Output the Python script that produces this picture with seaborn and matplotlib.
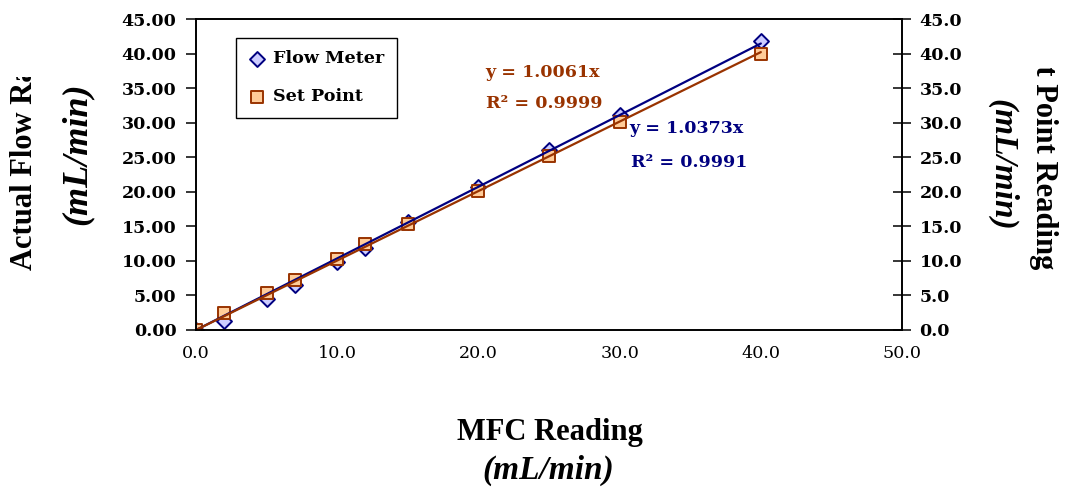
import numpy as np
import matplotlib
matplotlib.use("Agg")
import matplotlib.pyplot as plt
from matplotlib.transforms import Bbox, TransformedBbox
import seaborn as sns

# Calibration readings (mL/min)
mfc_reading = [0, 2, 5, 7, 10, 12, 15, 20, 25, 30, 40]
flow_meter = [0.0, 1.3, 4.5, 6.5, 9.9, 11.9, 15.6, 20.7, 26.1, 31.2, 41.8]
set_point = [0.0, 2.5, 5.3, 7.3, 10.3, 12.4, 15.3, 20.2, 25.2, 30.1, 40.0]

# Linear trendlines through the origin
flow_slope, flow_r2 = 1.0373, 0.9991
set_slope, set_r2 = 1.0061, 0.9999

x_ticks = [0, 10, 20, 30, 40, 50]
y_ticks = [0, 5, 10, 15, 20, 25, 30, 35, 40, 45]

NAVY = "#000080"
BROWN = "#993300"
LAVENDER = "#CCCCFF"
PEACH = "#FFCC99"
TITLE_FONT = "Liberation Serif"
SMALL = 12.6

sns.set_style("white")
plt.rcParams["font.family"] = ["DejaVu Serif"]
plt.rcParams["text.color"] = "black"
plt.rcParams["axes.labelcolor"] = "black"
plt.rcParams["xtick.color"] = "black"
plt.rcParams["ytick.color"] = "black"

fig = plt.figure(figsize=(10.69, 4.88), dpi=100)
ax = fig.add_axes([0.1834, 0.3238, 0.6604, 0.6367])

sns.scatterplot(x=mfc_reading, y=flow_meter, marker="D", s=58, color=LAVENDER,
                edgecolor=NAVY, linewidth=1.4, ax=ax, label="Flow Meter", zorder=2)
sns.scatterplot(x=mfc_reading, y=set_point, marker="s", s=70, color=PEACH,
                edgecolor=BROWN, linewidth=1.4, ax=ax, label="Set Point", zorder=2.5)

fit_x = np.array([min(mfc_reading), max(mfc_reading)], dtype=float)
sns.lineplot(x=fit_x, y=flow_slope * fit_x, color=NAVY, linewidth=1.6, ax=ax,
             zorder=3, legend=False)
sns.lineplot(x=fit_x, y=set_slope * fit_x, color=BROWN, linewidth=1.6, ax=ax,
             zorder=3, legend=False)

ax.set_xlim(0, 50)
ax.set_ylim(0, 45)
ax.set_xticks(x_ticks)
ax.set_xticklabels([f"{v:.1f}" for v in x_ticks], fontsize=SMALL, color="black")
ax.set_yticks(y_ticks)
ax.set_yticklabels([f"{v:.2f}" for v in y_ticks], fontsize=SMALL,
                   fontweight="bold", color="black")
ax.tick_params(axis="x", direction="out", length=5, width=1.1, pad=6, color="black")
ax.tick_params(axis="y", direction="out", length=7, width=1.1, pad=7, color="black")
ax.set_xlabel("")
ax.set_ylabel("")

ax2 = ax.twinx()
ax2.set_ylim(0, 45)
ax2.set_yticks(y_ticks)
ax2.set_yticklabels([f"{v:.1f}" for v in y_ticks], fontsize=SMALL,
                    fontweight="bold", color="black")
ax2.tick_params(axis="y", direction="inout", length=13, width=1.1, pad=6, color="black")

for a in (ax, ax2):
    for sp in a.spines.values():
        sp.set_visible(True)
        sp.set_color("black")
        sp.set_linewidth(1.2)

# Trendline equations
ax.text(20.5, 37.3, f"y = {set_slope:.4f}x", color=BROWN, fontsize=SMALL,
        fontweight="bold", va="center", ha="left")
ax.text(20.5, 32.8, f"R² = {set_r2:.4f}", color=BROWN, fontsize=SMALL,
        fontweight="bold", va="center", ha="left")
ax.text(30.7, 29.2, f"y = {flow_slope:.4f}x", color=NAVY, fontsize=SMALL,
        fontweight="bold", va="center", ha="left")
ax.text(30.8, 24.3, f"R² = {flow_r2:.4f}", color=NAVY, fontsize=SMALL,
        fontweight="bold", va="center", ha="left")

handles, labels = ax.get_legend_handles_labels()
leg = ax.legend(handles[:2], labels[:2], loc="upper left",
                bbox_to_anchor=(0.057, 0.939), frameon=True, fancybox=False,
                edgecolor="black", framealpha=1, borderpad=0.7, labelspacing=1.2,
                handlelength=1.0, handletextpad=0.4, borderaxespad=0,
                prop={"size": SMALL, "weight": "bold", "family": "DejaVu Serif"})
leg.get_frame().set_linewidth(1.0)


def clipped_text(x, y, s, y0, y1, **kw):
    t = fig.text(x, y, s, **kw)
    t.set_clip_box(TransformedBbox(Bbox([[0, y0], [1, y1]]), fig.transFigure))
    t.set_clip_on(True)
    return t


title_kw = dict(family=TITLE_FONT, fontweight="bold", fontsize=22,
                ha="center", va="center", color="black")
unit_kw = dict(family=TITLE_FONT, fontweight="bold", fontstyle="italic",
               fontsize=24, ha="center", va="center", color="black")

clipped_text(0.0225, 0.679, "Actual Flow Rate", 0.0, 0.842, rotation=90, **title_kw)
fig.text(0.072, 0.6855, "(mL/min)", rotation=90,
         **{**unit_kw, "fontsize": 26})

clipped_text(0.9757, 0.6885, "Set Point Reading", 0.0, 0.861, rotation=-90, **title_kw)
fig.text(0.9373, 0.662, "(mL/min)", rotation=-90, **unit_kw)

fig.text(0.5145, 0.114, "MFC Reading", **title_kw)
fig.text(0.5127, 0.037, "(mL/min)", **unit_kw)

fig.savefig("out.png", dpi=100, facecolor="white")
